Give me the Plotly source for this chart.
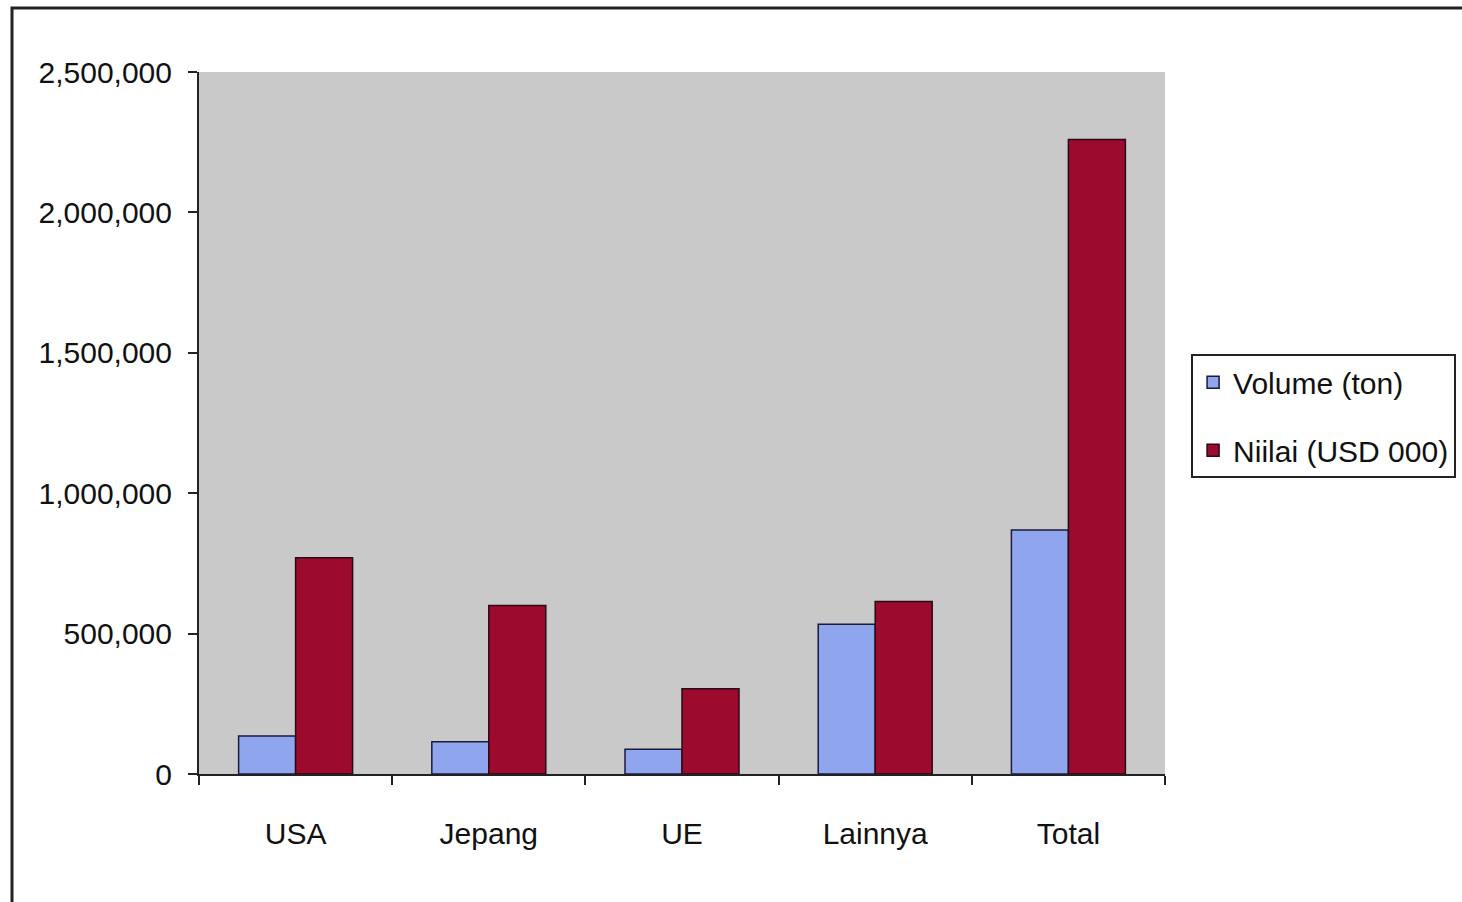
import plotly.graph_objects as go

categories = ["USA", "Jepang", "UE", "Lainnya", "Total"]
volume_ton = [135000, 115000, 88000, 533000, 869000]
nilai_usd000 = [770000, 600000, 304000, 614000, 2260000]
y_ticks = [0, 500000, 1000000, 1500000, 2000000, 2500000]

FONT = "Liberation Sans, Arial, sans-serif"

fig = go.Figure()
fig.add_trace(go.Bar(
    x=categories, y=volume_ton, name="Volume (ton)", legendgroup="a",
    marker=dict(color="#8fa6ee", line=dict(color="#1a1a3a", width=1.5)),
))
fig.add_trace(go.Bar(
    x=categories, y=nilai_usd000, name="Niilai (USD 000)", legendgroup="b",
    marker=dict(color="#9c0a2e", line=dict(color="#2a0a14", width=1.5)),
))

fig.update_layout(
    width=1462, height=902,
    margin=dict(l=199, r=297, t=72, b=128, autoexpand=False),
    paper_bgcolor="white",
    plot_bgcolor="#c9c9c9",
    barmode="group", bargap=0.41, bargroupgap=0.0,
    font=dict(family=FONT, size=30, color="#111111"),
    showlegend=True,
    legend=dict(
        x=1.027, y=0.598, xanchor="left", yanchor="top",
        bgcolor="white", bordercolor="#222222", borderwidth=2,
        font=dict(family=FONT, size=30, color="#111111"),
        tracegroupgap=26, itemwidth=30,
    ),
    xaxis=dict(
        showline=True, linecolor="#222222", linewidth=2,
        ticks="outside", ticklen=9, tickcolor="#222222", tickwidth=2,
        tickson="boundaries", ticklabelstandoff=32,
        showgrid=False,
    ),
    yaxis=dict(
        range=[0, 2500000], tickvals=y_ticks, tickformat=",d",
        showline=True, linecolor="#222222", linewidth=2,
        ticks="outside", ticklen=9, tickcolor="#222222", tickwidth=2,
        showgrid=False, zeroline=False, ticklabelstandoff=10,
    ),
)

# outer frame of the scanned chart
fig.add_shape(type="rect", xref="paper", yref="paper",
              x0=-187/966, x1=1.32, y0=-0.2, y1=(774 - 8) / 702,
              line=dict(color="#222222", width=3), fillcolor="rgba(0,0,0,0)",
              layer="below")

fig.write_html("out.html")
